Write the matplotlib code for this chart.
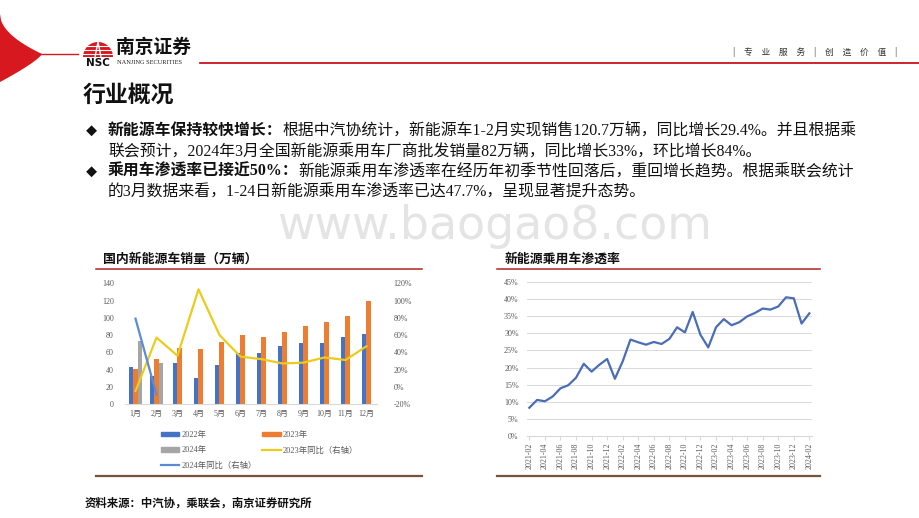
import matplotlib
matplotlib.use("Agg")
import matplotlib.pyplot as plt
import numpy as np
from matplotlib.patches import Patch, Polygon, Wedge
from matplotlib.lines import Line2D
from matplotlib.font_manager import FontProperties
from matplotlib.ticker import FuncFormatter

SERIF = ["Liberation Serif", "Noto Sans CJK SC"]
SANS = ["Noto Sans CJK SC", "DejaVu Sans"]

# ---- left chart data (万辆 / 同比)
months = ["1月", "2月", "3月", "4月", "5月", "6月", "7月", "8月", "9月", "10月", "11月", "12月"]
sales_2022 = [43, 33, 48, 30, 45, 59, 59, 67, 71, 71, 78, 81]
sales_2023 = [41, 52, 65, 64, 72, 80, 78, 84, 90, 95, 102, 119]
sales_2024 = [73, 47, None, None, None, None, None, None, None, None, None, None]
yoy_2023 = [-0.05, 0.57, 0.36, 1.13, 0.60, 0.35, 0.32, 0.27, 0.28, 0.34, 0.31, 0.47]
yoy_2024 = [0.79, -0.09]

# ---- right chart data (渗透率)
pen_months = [
    "2021-02", "2021-03", "2021-04", "2021-05", "2021-06", "2021-07", "2021-08",
    "2021-09", "2021-10", "2021-11", "2021-12", "2022-01", "2022-02", "2022-03",
    "2022-04", "2022-05", "2022-06", "2022-07", "2022-08", "2022-09", "2022-10",
    "2022-11", "2022-12", "2023-01", "2023-02", "2023-03", "2023-04", "2023-05",
    "2023-06", "2023-07", "2023-08", "2023-09", "2023-10", "2023-11", "2023-12",
    "2024-01", "2024-02",
]
penetration = [
    0.082, 0.105, 0.101, 0.115, 0.139, 0.148, 0.170, 0.211, 0.188, 0.208, 0.225,
    0.167, 0.218, 0.282, 0.274, 0.267, 0.275, 0.269, 0.284, 0.318, 0.303, 0.363,
    0.296, 0.259, 0.318, 0.342, 0.324, 0.333, 0.350, 0.360, 0.373, 0.370, 0.379,
    0.406, 0.403, 0.329, 0.359,
]

C2022, C2023, C2024 = "#4472C4", "#ED7D31", "#A5A5A5"
CYOY23, CYOY24 = "#EBCB1C", "#5B8BD5"
TICK = "#595959"

fig = plt.figure(figsize=(9.2, 5.18), dpi=100)
W, H = 920, 518


def fbox(x0, y0, x1, y1):
    # pixel box (top-left origin) -> figure fraction rect
    return [x0 / W, 1 - y1 / H, (x1 - x0) / W, (y1 - y0) / H]


# background layer in pixel coordinates
bg = fig.add_axes([0, 0, 1, 1], zorder=0)
bg.set_xlim(0, W)
bg.set_ylim(H, 0)
bg.axis("off")

# header decoration
t = np.linspace(0, 1, 40)
upper = np.column_stack([42 * t, 14 + 40 * np.sqrt(t)])
lower = np.column_stack([42 * t[::-1], 54 + 28 * (1 - t[::-1]) ** 0.8])
bg.add_patch(Polygon(np.vstack([upper, lower]), closed=True, color="#D7191F", lw=0))
bg.plot([40, 78], [54, 54], color="#D7191F", lw=1.0)
bg.plot([200, 920], [62.5, 62.5], color="#C8141E", lw=1.3)

# logo emblem
bg.add_patch(Wedge((98, 57), 15, 180, 360, color="#D7191F", lw=0))
for yy in [46, 50, 54]:
    bg.plot([82, 114], [yy, yy], color="white", lw=0.8)
bg.plot([95, 98, 101], [57, 42, 57], color="white", lw=1.0)
bg.text(98, 62.5, "NSC", ha="center", va="center", fontsize=7.5, weight="bold",
        family="DejaVu Sans", color="#111111")
bg.text(116, 47.5, "南京证券", ha="left", va="center", fontsize=13.5, weight="bold",
        family=SANS, color="#111111")
bg.text(117, 62, "NANJING SECURITIES", ha="left", va="center", fontsize=4.6,
        family=SERIF, color="#222222")
bg.text(815, 52, "|　专　业　服　务　|　创　造　价　值　|", ha="center", va="center",
        fontsize=6.3, family=SANS, color="#333333")

# watermark
bg.text(495, 239, "www.baogao8.com", ha="center", va="baseline", fontsize=33,
        family="DejaVu Sans", color="#E4E4E4", zorder=0)

bg.text(83, 95, "行业概况", ha="left", va="center", fontsize=16.5, weight="bold",
        family=SANS, color="#111111")

renderer = fig.canvas.get_renderer()


def runs(x, y, parts, size=11.4):
    for txt, wt in parts:
        tt = bg.text(x, y, txt, ha="left", va="center", fontsize=size, weight=wt,
                     family=SERIF, color="#111111")
        x += tt.get_window_extent(renderer).width


bullet_lines = [
    (131, True, [("新能源车保持较快增长：", "bold"),
                 ("根据中汽协统计，新能源车1-2月实现销售120.7万辆，同比增长29.4%。并且根据乘", "normal")]),
    (152, False, [("联会预计，2024年3月全国新能源乘用车厂商批发销量82万辆，同比增长33%，环比增长84%。", "normal")]),
    (172, True, [("乘用车渗透率已接近50%：", "bold"),
                 ("新能源乘用车渗透率在经历年初季节性回落后，重回增长趋势。根据乘联会统计", "normal")]),
    (193, False, [("的3月数据来看，1-24日新能源乘用车渗透率已达47.7%，呈现显著提升态势。", "normal")]),
]
for y, has_dot, parts in bullet_lines:
    if has_dot:
        bg.text(91, y, "◆", ha="center", va="center", fontsize=8, family=SANS, color="#111111")
    runs(108, y, parts)

# chart titles and rules
bg.text(103, 259, "国内新能源车销量（万辆）", ha="left", va="center", fontsize=9.3,
        weight="bold", family=SANS, color="#111111")
bg.text(505, 259, "新能源乘用车渗透率", ha="left", va="center", fontsize=9.3,
        weight="bold", family=SANS, color="#111111")
for x0, x1 in [(96, 422), (497, 820)]:
    bg.plot([x0, x1], [269, 269], color="#B22222", lw=1.1)
    bg.plot([x0, x1], [476, 476], color="#7A5238", lw=1.6)

bg.text(85, 503, "资料来源：中汽协，乘联会，南京证券研究所", ha="left", va="center",
        fontsize=8.2, weight="bold", family=SANS, color="#111111")

# ---- left chart
ax1 = fig.add_axes(fbox(125, 283.3, 377, 404), zorder=2)
ax1.set_facecolor("none")
bw = 0.22
series = [(sales_2022, C2022), (sales_2023, C2023), (sales_2024, C2024)]
for i in range(len(months)):
    present = [(s[i], c) for s, c in series if s[i] is not None]
    n = len(present)
    for k, (v, c) in enumerate(present):
        ax1.bar(i + (k - (n - 1) / 2) * bw, v, width=bw, color=c, lw=0)
ax1.set_xlim(-0.5, len(months) - 0.5)
ax1.set_ylim(0, 140)
ax1.set_yticks(range(0, 141, 20))
ax1.set_xticks(range(len(months)))
ax1.set_xticklabels(months)
for s in ["top", "right", "left"]:
    ax1.spines[s].set_visible(False)
ax1.spines["bottom"].set_color("#D9D9D9")
ax1.tick_params(axis="both", length=0, labelsize=5.8, colors=TICK)
ax1.tick_params(axis="y", pad=8)
ax1.tick_params(axis="x", pad=4)
for lab in ax1.get_xticklabels() + ax1.get_yticklabels():
    lab.set_family(SERIF)

ax2 = ax1.twinx()
ax2.set_zorder(3)
ax2.plot(range(len(yoy_2023)), yoy_2023, color=CYOY23, lw=1.6)
ax2.plot(range(len(yoy_2024)), yoy_2024, color=CYOY24, lw=1.6)
ax2.set_ylim(-0.2, 1.2)
ax2.set_yticks(np.arange(-0.2, 1.21, 0.2))
ax2.yaxis.set_major_formatter(FuncFormatter(lambda v, p: f"{v * 100:.0f}%"))
for s in ["top", "right", "left", "bottom"]:
    ax2.spines[s].set_visible(False)
ax2.tick_params(axis="y", length=0, labelsize=5.8, colors=TICK, pad=12)
for lab in ax2.get_yticklabels():
    lab.set_family(SERIF)

handles = [
    Patch(color=C2022, label="2022年"),
    Patch(color=C2024, label="2024年"),
    Line2D([], [], color=CYOY24, lw=1.6, label="2024年同比（右轴）"),
    Patch(color=C2023, label="2023年"),
    Line2D([], [], color=CYOY23, lw=1.6, label="2023年同比（右轴）"),
]
ax1.legend(handles=handles, ncol=2, loc="upper left",
           bbox_to_anchor=(161 / W, 1 - 431 / H), bbox_transform=fig.transFigure,
           frameon=False, prop=FontProperties(family=SERIF, size=6),
           handlelength=2.2, handleheight=0.5, handletextpad=0.3,
           columnspacing=0.6, labelspacing=0.85, borderpad=0, borderaxespad=0,
           labelcolor=TICK)

# ---- right chart
ax3 = fig.add_axes(fbox(527, 282.3, 812, 435.7), zorder=2)
ax3.set_facecolor("none")
xs = np.arange(len(penetration))
ax3.plot(xs, penetration, color="#4A6DB8", lw=1.6)
ax3.set_xlim(-0.3, len(penetration) - 0.66)
ax3.set_ylim(0, 0.45)
ax3.set_yticks(np.arange(0, 0.451, 0.05))
ax3.yaxis.set_major_formatter(FuncFormatter(lambda v, p: f"{v * 100:.0f}%"))
ax3.set_xticks(xs[::2])
ax3.set_xticklabels(pen_months[::2], rotation=90)
ax3.grid(axis="y", color="#D9D9D9", lw=0.7)
ax3.set_axisbelow(True)
for s in ["top", "right", "left"]:
    ax3.spines[s].set_visible(False)
ax3.spines["bottom"].set_color("#D9D9D9")
ax3.tick_params(axis="y", length=0, labelsize=5.8, colors=TICK, pad=6)
ax3.tick_params(axis="x", length=3, color="#D9D9D9", labelsize=5.8, colors=TICK, pad=2)
for lab in ax3.get_xticklabels() + ax3.get_yticklabels():
    lab.set_family(SERIF)

fig.savefig("out.png", dpi=100)
